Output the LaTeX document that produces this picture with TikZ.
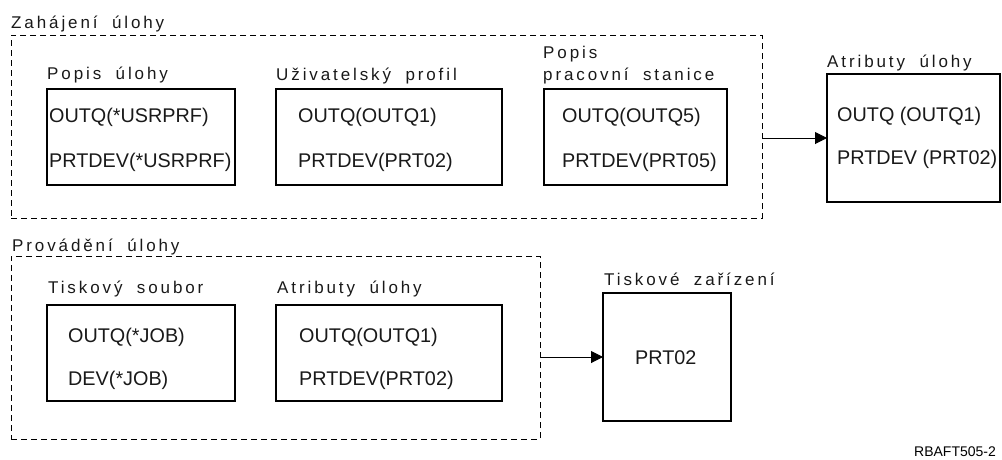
\documentclass[tikz,border=0pt]{standalone}
\usepackage{fontspec}
\setmainfont{Liberation Sans}
\newfontfamily\titlefont[LetterSpace=17,WordSpace=1.9]{Liberation Sans}
\usetikzlibrary{arrows.meta}
\tikzset{
  box/.style={draw=black, line width=1.1pt, inner sep=0pt, outer sep=0pt},
  dashbox/.style={draw=black, line width=1pt, dash pattern=on 6pt off 4pt, inner sep=0pt, outer sep=0pt},
  body/.style={anchor=base west, inner sep=0pt, font=\fontsize{19.8}{22}\selectfont, text=black!90},
  ttl/.style={anchor=base west, inner sep=0pt, font=\titlefont\fontsize{17}{20}\selectfont, text=black!90},
  conn/.style={draw=black, line width=1pt, -{Triangle[length=12pt,width=12pt]}},
  tag/.style={anchor=base west, inner sep=0pt, font=\fontsize{14}{16}\selectfont}
}
\begin{document}
\begin{tikzpicture}[x=1pt,y=-1pt]
\useasboundingbox (0,0) rectangle (1002,459);
% group boxes
\node[dashbox, minimum width=751pt, minimum height=183pt] (g1) at (386.5,126.5) {};
\node[dashbox, minimum width=529pt, minimum height=183pt] (g2) at (275.5,347.5) {};
% inner boxes
\node[box, minimum width=188pt, minimum height=96pt] (b1) at (141,137) {};
\node[box, minimum width=226pt, minimum height=96pt] (b2) at (389,137) {};
\node[box, minimum width=183pt, minimum height=96pt] (b3) at (635.5,137) {};
\node[box, minimum width=173pt, minimum height=128pt] (b4) at (913.5,138) {};
\node[box, minimum width=188pt, minimum height=96pt] (b6) at (141,353) {};
\node[box, minimum width=226pt, minimum height=96pt] (b7) at (389,353) {};
\node[box, minimum width=128pt, minimum height=128pt] (b5) at (667,357) {};
% titles
\node[ttl] (t1) at (11,28) {Zahájení úlohy};
\node[ttl] (t2) at (47,79) {Popis úlohy};
\node[ttl] (t3) at (276,80) {Uživatelský profil};
\node[ttl] (t4a) at (543,58) {Popis};
\node[ttl] (t4b) at (543,80) {pracovní stanice};
\node[ttl] (t5) at (827,67) {Atributy úlohy};
\node[ttl] (t6) at (12,251) {Provádění úlohy};
\node[ttl] (t7) at (48,293) {Tiskový soubor};
\node[ttl] (t8) at (277,293) {Atributy úlohy};
\node[ttl] (t9) at (604,285) {Tiskové zařízení};
% box contents
\node[body] (a1) at (49,122) {OUTQ(*USRPRF)};
\node[body] (a2) at (49,167) {PRTDEV(*USRPRF)};
\node[body] (c1) at (298,122) {OUTQ(OUTQ1)};
\node[body] (c2) at (298,167) {PRTDEV(PRT02)};
\node[body] (d1) at (562,122) {OUTQ(OUTQ5)};
\node[body] (d2) at (562,167) {PRTDEV(PRT05)};
\node[body] (e1) at (837,121) {OUTQ (OUTQ1)};
\node[body] (e2) at (837,164) {PRTDEV (PRT02)};
\node[body] (f1) at (68,342) {OUTQ(*JOB)};
\node[body] (f2) at (68,385) {DEV(*JOB)};
\node[body] (h1) at (299,342) {OUTQ(OUTQ1)};
\node[body] (h2) at (299,385) {PRTDEV(PRT02)};
\node[body] (p1) at (635,364) {PRT02};
\node[tag] (rb) at (914,456) {RBAFT505-2};
% connectors
\draw[conn] (g1.east |- b4.west) -- (b4.west);
\draw[conn] (g2.east |- b5.west) -- (b5.west);
\end{tikzpicture}
\end{document}
